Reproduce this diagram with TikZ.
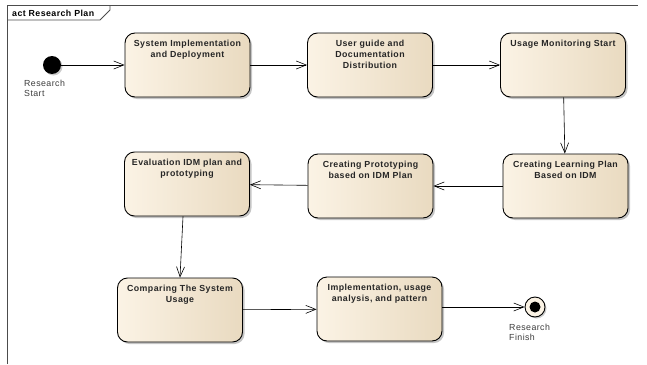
\documentclass[tikz,border=0pt]{standalone}
\usepackage{fontspec}
\setmainfont[LetterSpace=5]{Liberation Sans}
\usetikzlibrary{arrows.meta,shadows}
\definecolor{boxlight}{RGB}{251,243,229}
\definecolor{boxdark}{RGB}{233,218,192}
\definecolor{lbltext}{RGB}{60,60,60}
\newcommand{\acttext}[1]{\parbox[c][62pt][t]{122pt}{\centering\vspace{6.5pt}#1}}
\begin{document}
\begin{tikzpicture}[x=1pt,y=-1pt]
	\tikzstyle{act}=[draw=black, line width=0.9pt, rounded corners=10pt, minimum width=125pt, minimum height=64pt, inner sep=0pt, left color=boxlight, right color=boxdark, drop shadow={shadow xshift=2pt, shadow yshift=-2pt, fill=black!45}, font=\bfseries\fontsize{8.8}{10.6}\selectfont, text=black!85]
	\tikzstyle{lbl}=[anchor=north west, align=left, inner sep=0pt, text=lbltext, font=\fontsize{8.8}{10.4}\selectfont]
	\tikzstyle{flow}=[line width=0.6pt, -{Straight Barb[length=10pt, width=8pt, line width=0.6pt]}]
	\useasboundingbox (0,0) rectangle (647,364);
	% Frame
	\draw [line width=0.8pt, black!70] (7,364) -- (7,5) -- (638,5);
	\draw [line width=0.8pt, black!70] (7,20) -- (100,20) -- (110,10) -- (110,5);
	\node at (12,13) [anchor=west, inner sep=0pt, font=\bfseries\fontsize{8.8}{10}\selectfont] (title) {act Research Plan};
	% Start
	\node at (52,65) [circle, fill=black, minimum size=18pt, inner sep=0pt, drop shadow={shadow xshift=1.5pt, shadow yshift=-1.5pt, fill=black!40}] (start) {};
	\node at (24,79.5) [lbl] (startlbl) {Research\\Start};
	% Top row
	\node at (187.5,65) [act] (deploy) {\acttext{System Implementation\\and Deployment}};
	\node at (370,65) [act] (guide) {\acttext{User guide and\\Documentation\\Distribution}};
	\node at (563,65) [act] (monitor) {\acttext{Usage Monitoring Start}};
	% Middle row
	\node at (565.5,186) [act] (learnplan) {\acttext{Creating Learning Plan\\Based on IDM}};
	\node at (370.5,186) [act] (prototype) {\acttext{Creating Prototyping\\based on IDM Plan}};
	\node at (187,184) [act] (evaluate) {\acttext{Evaluation IDM plan and\\prototyping}};
	% Bottom row
	\node at (180,310) [act] (compare) {\acttext{Comparing The System\\Usage}};
	\node at (379.5,309) [act] (implement) {\acttext{Implementation, usage\\analysis, and pattern}};
	% Finish
	\node at (535,307) [circle, draw=black, line width=0.9pt, fill=boxlight, minimum size=20pt, inner sep=0pt, drop shadow={shadow xshift=1.5pt, shadow yshift=-1.5pt, fill=black!40}] (finish) {};
	\node at (535,307) [circle, fill=black, minimum size=11pt, inner sep=0pt] (finishdot) {};
	\node at (509,323.5) [lbl] (finishlbl) {Research\\Finish};
	%---------------------%
	\draw [flow] (start) -- (deploy);
	\draw [flow] (deploy) -- (guide);
	\draw [flow] (guide) -- (monitor);
	\draw [flow] (monitor) -- (learnplan);
	\draw [flow] (learnplan) -- (prototype);
	\draw [flow] (prototype) -- (evaluate);
	\draw [flow] (evaluate.south -| 183,0) -- (compare.north);
	\draw [flow] (compare) -- (implement);
	\draw [flow] (implement.east |- finish) -- (finish);
\end{tikzpicture}
\end{document}
